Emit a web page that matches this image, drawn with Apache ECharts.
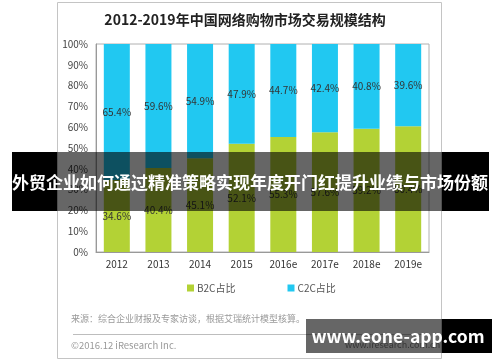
<!DOCTYPE html>
<html>
<head>
<meta charset="utf-8">
<script src="https://cdn.jsdelivr.net/npm/echarts@6/dist/echarts.min.js"></script>
<style>
html,body{margin:0;padding:0;background:#fff;}
#c{width:500px;height:362px;}
</style>
</head>
<body>
<div id="c"></div>
<script>
var categories = ['2012','2013','2014','2015','2016e','2017e','2018e','2019e'];
var b2cShare = [34.6, 40.4, 45.1, 52.1, 55.3, 57.6, 59.2, 60.4];
var c2cShare = [65.4, 59.6, 54.9, 47.9, 44.7, 42.4, 40.8, 39.6];
var yTicks = [0,10,20,30,40,50,60,70,80,90,100];
var titleText = '2012-2019年中国网络购物市场交易规模结构';
var bannerText = '外贸企业如何通过精准策略实现年度开门红提升业绩与市场份额';
var sourceText = '来源：综合企业财报及专家访谈，根据艾瑞统计模型核算。';
var copyText = '©2016.12 iResearch Inc.';
var siteText = 'www.iresearch.com.cn';
var watermarkText = 'www.eone-app.com';

var FONT = '"Noto Sans CJK SC","Noto Sans",sans-serif';
var chart = echarts.init(document.getElementById('c'), null, {renderer:'canvas'});
var labelStyle = {show:true, position:'inside', color:'#333', fontSize:10, fontFamily:FONT,
  formatter:function(p){return p.value.toFixed(1)+'%';}};
chart.setOption({
  animation:false,
  backgroundColor:'#fff',
  title:{text:titleText, left:240, textAlign:'center', top:8,
    textStyle:{fontSize:14, fontWeight:'bold', color:'#222', fontFamily:FONT}},
  grid:{left:96, right:71, top:44, bottom:110, show:true, borderColor:'#b0b0b0', borderWidth:1},
  legend:{data:['B2C占比','C2C占比'], left:182, top:278, icon:'rect', itemWidth:7, itemHeight:7,
    itemGap:52, textStyle:{fontSize:10, color:'#555', fontFamily:FONT, padding:[0,0,0,-2]}},
  xAxis:{type:'category', data:categories,
    axisLine:{show:true, lineStyle:{color:'#999'}}, axisTick:{show:false},
    axisLabel:{fontSize:10, color:'#333', margin:7, fontFamily:FONT}},
  yAxis:{type:'value', min:0, max:100, interval:10,
    axisLine:{show:true, lineStyle:{color:'#999'}}, axisTick:{show:false}, splitLine:{show:false},
    axisLabel:{fontSize:10, color:'#444', margin:8, fontFamily:FONT,
      formatter:function(v){return yTicks.indexOf(v)>=0 ? v+'%' : '';}}},
  series:[
    {name:'B2C占比', type:'bar', stack:'s', data:b2cShare, barWidth:26,
      itemStyle:{color:'#b3d235'}, label:labelStyle},
    {name:'C2C占比', type:'bar', stack:'s', data:c2cShare, barWidth:26,
      itemStyle:{color:'#21c8f1'}, label:labelStyle}
  ],
  graphic:[
    {type:'rect', shape:{x:57.5, y:2.5, width:384, height:356}, style:{fill:null, stroke:'#c4c4c4', lineWidth:1}, z:1, silent:true},
    {type:'text', x:71, y:314, style:{text:sourceText, fill:'#999', fontSize:9, fontFamily:FONT}, z:1},
    {type:'line', shape:{x1:73, y1:334.5, x2:430, y2:334.5}, style:{stroke:'#bdbdbd', lineWidth:1}, z:1},
    {type:'text', x:71, y:341, style:{text:copyText, fill:'#999', fontSize:9.5, fontFamily:FONT}, z:1},
    {type:'text', x:345, y:340, style:{text:siteText, fill:'#888', fontSize:9, fontFamily:FONT}, z:1},
    {type:'rect', shape:{x:12, y:152, width:45, height:59}, style:{fill:'#000'}, z:100},
    {type:'rect', shape:{x:57, y:152, width:385, height:59}, style:{fill:'rgba(0,0,0,0.6)'}, z:100},
    {type:'rect', shape:{x:442, y:152, width:47, height:59}, style:{fill:'#000'}, z:100},
    {type:'text', x:250, y:183, style:{text:bannerText, fill:'#fff', fontSize:17, fontWeight:'bold',
      fontFamily:FONT, textAlign:'center', textVerticalAlign:'middle'}, z:101},
    {type:'rect', shape:{x:306, y:319, width:136, height:34}, style:{fill:'rgba(0,0,0,0.6)'}, z:100},
    {type:'rect', shape:{x:442, y:319, width:50, height:34}, style:{fill:'#000'}, z:100},
    {type:'text', x:398, y:336, style:{text:watermarkText, fill:'#fff', fontSize:17.5, fontWeight:'bold',
      fontFamily:FONT, textAlign:'center', textVerticalAlign:'middle'}, z:101}
  ]
});
</script>
</body>
</html>
